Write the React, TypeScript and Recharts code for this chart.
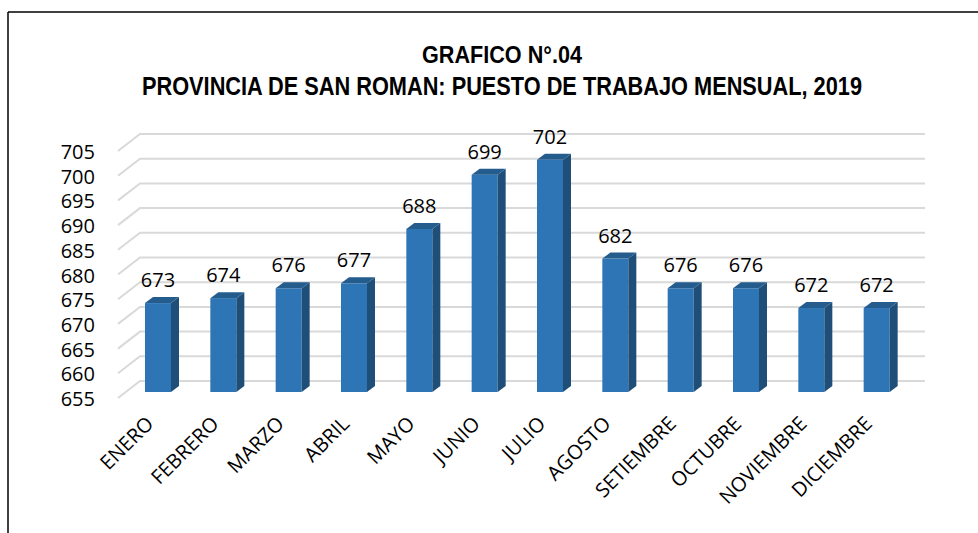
import * as React from "react"
import { BarChart, Bar, XAxis, YAxis, CartesianGrid, LabelList } from "recharts"

const months = [
  "ENERO", "FEBRERO", "MARZO", "ABRIL", "MAYO", "JUNIO",
  "JULIO", "AGOSTO", "SETIEMBRE", "OCTUBRE", "NOVIEMBRE", "DICIEMBRE",
]
const puestos = [673, 674, 676, 677, 688, 699, 702, 682, 676, 676, 672, 672]
const yTicks = [655, 660, 665, 670, 675, 680, 685, 690, 695, 700, 705]

const data = months.map((mes, i) => ({ mes, valor: puestos[i] }))

const FONT = "'Open Sans', Lato, sans-serif"
const TITLE_FONT = "'Liberation Sans Narrow', 'Arial Narrow', 'Liberation Sans', Arial, sans-serif"
const DEPTH_X = 8
const DEPTH_Y = 6

// 3d looking column: front face, right side and top
const Bar3D = (props: any) => {
  const { x, y, width, height } = props
  if (width == null || height == null) return null
  const r = x + width
  const b = y + height
  return (
    <g>
      <rect x={x} y={y} width={width} height={height} fill="#2E75B6" />
      <polygon
        points={`${r},${y} ${r + DEPTH_X},${y - DEPTH_Y} ${r + DEPTH_X},${b - DEPTH_Y} ${r},${b}`}
        fill="#1F4E79"
      />
      <polygon
        points={`${x},${y} ${x + DEPTH_X},${y - DEPTH_Y} ${r + DEPTH_X},${y - DEPTH_Y} ${r},${y}`}
        fill="#255C8E"
      />
    </g>
  )
}

// gridline with a slanted segment on the left wall
const GridLine3D = (props: any) => {
  const { x1, x2, y1 } = props
  return (
    <polyline
      key={props.key ?? `g-${y1}`}
      points={`${x1 - 7},${y1 + 6} ${x1 + 15},${y1 - 11} ${x2 + 16},${y1 - 11}`}
      fill="none"
      stroke="#D9D9D9"
      strokeWidth={2}
    />
  )
}

const YTick = (props: any) => {
  const { x, y, payload } = props
  return (
    <text x={x - 30} y={y + 14} textAnchor="end" fontFamily={FONT} fontSize={20} fill="#000">
      {payload.value}
    </text>
  )
}

const XTick = (props: any) => {
  const { x, y, payload } = props
  const ax = x - 3
  const ay = y + 33
  return (
    <text
      x={ax}
      y={ay}
      textAnchor="end"
      fontFamily={FONT}
      fontSize={20}
      fill="#000"
      transform={`rotate(-45, ${ax}, ${ay})`}
    >
      {payload.value}
    </text>
  )
}

const ValueLabel = (props: any) => {
  const { x, y, width, value } = props
  return (
    <text x={x + width / 2} y={y - 16} textAnchor="middle" fontFamily={FONT} fontSize={20} fill="#000">
      {value}
    </text>
  )
}

export default function App() {
  return (
    <div style={{ position: "absolute", left: 0, top: 0, width: 978, height: 533, background: "#fff" }}>
      <svg width={978} height={533} style={{ position: "absolute", left: 0, top: 0 }}>
        <line x1={8} y1={12} x2={8} y2={533} stroke="#000" strokeWidth={1.5} />
        <line x1={8} y1={12} x2={978} y2={12} stroke="#000" strokeWidth={1.5} />
        <text
          x={502}
          y={63}
          textAnchor="middle"
          fontFamily={TITLE_FONT}
          fontWeight="bold"
          fontSize={24}
          textLength={160}
          lengthAdjust="spacingAndGlyphs"
        >
          GRAFICO N°.04
        </text>
        <text
          x={502}
          y={95}
          textAnchor="middle"
          fontFamily={TITLE_FONT}
          fontWeight="bold"
          fontSize={25}
          textLength={720}
          lengthAdjust="spacingAndGlyphs"
        >
          PROVINCIA DE SAN ROMAN: PUESTO DE TRABAJO MENSUAL, 2019
        </text>
      </svg>
      <div style={{ position: "absolute", left: 0, top: 0 }}>
        <BarChart
          width={978}
          height={533}
          data={data}
          margin={{ top: 145, right: 69, bottom: 41, left: 95 }}
        >
          <CartesianGrid vertical={false} horizontal={GridLine3D as any} />
          <XAxis
            dataKey="mes"
            axisLine={false}
            tickLine={false}
            tickSize={0}
            tickMargin={0}
            height={100}
            interval={0}
            tick={<XTick />}
          />
          <YAxis
            domain={[655, 705]}
            ticks={yTicks}
            axisLine={false}
            tickLine={false}
            tickSize={0}
            tickMargin={0}
            width={30}
            interval={0}
            allowDataOverflow
            tick={<YTick />}
          />
          <Bar dataKey="valor" barSize={26} shape={<Bar3D />} isAnimationActive={false}>
            <LabelList dataKey="valor" content={<ValueLabel />} />
          </Bar>
        </BarChart>
      </div>
    </div>
  )
}
